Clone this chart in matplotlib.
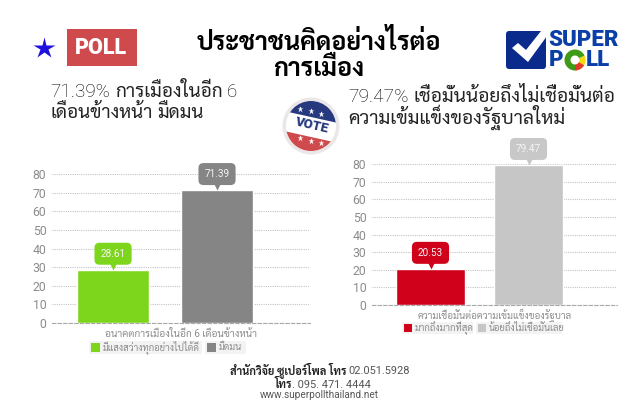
import matplotlib
matplotlib.use("Agg")
import matplotlib.pyplot as plt
from matplotlib.patches import Circle, FancyBboxPatch, Polygon, Rectangle, Wedge
from matplotlib.transforms import ScaledTranslation

W, H = 642, 420
THAI = ["Roboto", "Sarabun", "DejaVu Sans"]
LATIN = ["Roboto", "DejaVu Sans"]
plt.rcParams["font.family"] = THAI

# left chart
left_cat = "อนาคตการเมืองในอีก 6 เดือนข้างหน้า"
left_names = ["มีแสงสว่างทุกอย่างไปได้ดี", "มืดมน"]
left_vals = [28.61, 71.39]
left_cols = ["#7ed61c", "#858585"]

# right chart
right_cat = "ความเชื่อมั่นต่อความเข้มแข็งของรัฐบาล"
right_names = ["มากถึงมากที่สุด", "น้อยถึงไม่เชื่อมั่นเลย"]
right_vals = [20.53, 79.47]
right_cols = ["#d0021b", "#c6c6c6"]
right_tip = ["#d0021b", "#c8c8c8"]

y_ticks = [0, 10, 20, 30, 40, 50, 60, 70, 80]


def px_axes(fig, x0, x1, y_top, y_bottom):
    return fig.add_axes([x0 / W, 1 - y_bottom / H, (x1 - x0) / W, (y_bottom - y_top) / H])


def draw_chart(fig, box, xlim, vals, cols, tips, cat, width, cat_size, cat_pad):
    ax = px_axes(fig, *box)
    xs = list(range(len(vals)))
    ax.bar(xs, vals, width=width, color=cols, edgecolor="white", linewidth=1, zorder=3)
    ax.set_xlim(*xlim)
    ax.set_ylim(0, 80)
    ax.set_yticks(y_ticks)
    ax.set_xticks([])
    ax.tick_params(axis="y", length=0, labelsize=8.8, labelcolor="#8c8c8c", pad=4)
    ax.grid(axis="y", linestyle=(0, (1, 1)), color="#c4c4c4", linewidth=0.8, zorder=1)
    ax.patch.set_alpha(0)
    for side in ["top", "right", "left"]:
        ax.spines[side].set_visible(False)
    ax.spines["bottom"].set_linestyle((0, (3, 2)))
    ax.spines["bottom"].set_color("#a8a8a8")
    ax.spines["bottom"].set_linewidth(0.8)
    ax.set_xlabel(cat, fontsize=cat_size, color="#8c8c8c", labelpad=cat_pad)
    tip_shift = ScaledTranslation(0, 3 / 72, fig.dpi_scale_trans)
    for x, v, c in zip(xs, vals, tips):
        ax.annotate(f"{v:.2f}", (x, v), xytext=(0, 11.5), textcoords="offset points",
                    ha="center", va="center", fontsize=7.2, color="#f4f4f4", zorder=6,
                    bbox=dict(boxstyle="round,pad=0.6,rounding_size=0.5", fc=c, ec="none"))
        ax.plot([x], [v], marker="v", ms=5.5, color=c, mec="none", clip_on=False, zorder=5,
                transform=ax.transData + tip_shift)
    return ax


def legend_entry(ov, x0, x1, y0, y1, col, label):
    ov.add_patch(Rectangle((x0, y0), x1 - x0, y1 - y0, fc="#f3f3f3", ec="none"))
    ov.add_patch(Rectangle((x0 + 2, y0 + 2), y1 - y0 - 4, y1 - y0 - 4, fc=col, ec="none"))
    ov.text(x0 + y1 - y0 + 1, (y0 + y1) / 2, label, fontsize=6.8, color="#8c8c8c", va="center", ha="left")


def runs(ov, x, y, parts, size, gap):
    # text pieces of different weight, one after the other on a baseline
    rend = ov.figure.canvas.get_renderer()
    for text, weight, color in parts:
        t = ov.text(x, y, text, fontsize=size, fontweight=weight, color=color, ha="left", va="baseline")
        x += t.get_window_extent(rend).width + gap


fig = plt.figure(figsize=(W / 100, H / 100), dpi=100)
fig.patch.set_facecolor("white")

draw_chart(fig, (52, 310, 174, 323), (-0.587, 1.894), left_vals, left_cols, left_cols, left_cat, 0.692, 7.3, 4)
draw_chart(fig, (372, 617, 164, 305), (-0.597, 1.903), right_vals, right_cols, right_tip, right_cat, 0.704, 7.0, 2.5)

# page layer in pixels: headings, logos, legend chips
ov = fig.add_axes([0, 0, 1, 1], zorder=10)
ov.set_xlim(0, W)
ov.set_ylim(H, 0)
ov.axis("off")

ov.text(319, 50, "ประชาชนคิดอย่างไรต่อ", fontsize=18, fontweight="bold", ha="center", va="baseline", color="black")
ov.text(319, 76.5, "การเมือง", fontsize=18, fontweight="bold", ha="center", va="baseline", color="black")

runs(ov, 50, 97, [("71.39%", "light", "#000000"), ("การเมืองในอีก", "normal", "#222222"), ("6", "light", "#000000")], 13.6, 5)
runs(ov, 50, 118, [("เดือนข้างหน้า", "normal", "#222222"), ("มืดมน", "normal", "#222222")], 13.6, 5)
runs(ov, 348, 102.5, [("79.47%", "light", "#000000"), ("เชื่อมั่นน้อยถึงไม่เชื่อมั่นต่อ", "normal", "#222222")], 13.8, 5)
runs(ov, 348, 124, [("ความเข้มแข็งของรัฐบาลใหม่", "normal", "#222222")], 13.8, 5)

# footer
runs(ov, 230, 374.5, [("สำนักวิจัย ซูเปอร์โพล โทร", "bold", "#222222"), ("02.051.5928", "normal", "#555555")], 7.9, 2)
runs(ov, 275, 388, [("โทร", "bold", "#222222"), (". 095. 471. 4444", "normal", "#555555")], 7.9, 0)
ov.text(319, 398.5, "www.superpollthailand.net", fontsize=7.2, color="#555555", ha="center", va="baseline")

# legends
legend_entry(ov, 89, 202, 341, 354, left_cols[0], left_names[0])
legend_entry(ov, 205, 246, 341, 354, left_cols[1], left_names[1])
legend_entry(ov, 402, 473, 322, 334, right_cols[0], right_names[0])
legend_entry(ov, 476, 562, 322, 334, right_cols[1], right_names[1])

# star and POLL tag
ov.plot([44], [48], marker="*", ms=16, color="#2010e0", mec="none")
ov.add_patch(Rectangle((67, 29), 70, 37, fc="#cf4a4c", ec="none"))
ov.text(100.5, 48.5, "POLL", fontsize=15.5, fontweight="heavy", color="white", ha="center", va="center", family=LATIN)

# vote badge
cx, cy = 311, 126
ov.add_patch(Circle((cx, cy), 28.5, fc="#ebe7e7", ec="none"))
face = Circle((cx, cy), 25, fc="white", ec="none")
ov.add_patch(face)
blue = Polygon([(cx - 27, cy - 27), (cx + 27, cy - 27), (cx + 27, cy - 3), (cx - 27, cy - 15)], fc="#26397f", ec="none")
red = Polygon([(cx - 27, cy + 5), (cx + 27, cy + 17), (cx + 27, cy + 27), (cx - 27, cy + 27)], fc="#cf4a4c", ec="none")
ov.add_patch(blue)
ov.add_patch(red)
blue.set_clip_path(face)
red.set_clip_path(face)
ov.text(cx, cy - 0.5, "VOTE", fontsize=9.5, fontweight="heavy", color="#26397f", rotation=-13,
        rotation_mode="anchor", ha="center", va="center", family=LATIN)
ov.plot([cx - 11, cx, cx + 10], [cy - 17, cy - 15, cy - 12], ls="none", marker="*", ms=5, color="white", mec="none")
ov.plot([cx - 11, cx, cx + 10], [cy + 12, cy + 15, cy + 17], ls="none", marker="*", ms=5, color="white", mec="none")

# superpoll logo
ov.add_patch(FancyBboxPatch((508, 33), 36, 34, boxstyle="round,pad=2,rounding_size=3", fc="#0a2a8c", ec="none"))
ov.add_patch(Polygon([(512, 48), (518, 43), (526, 50), (541, 31), (547, 31), (547, 36), (528, 62)], fc="white", ec="none"))
ov.text(548.5, 39.5, "SUPER", fontsize=16, fontweight="heavy", color="#0b3fa8", ha="left", va="center", family=LATIN)
ov.text(549, 60, "P", fontsize=16, fontweight="heavy", color="#0b3fa8", ha="left", va="center", family=LATIN)
ov.text(586, 60, "LL", fontsize=16, fontweight="heavy", color="#0b3fa8", ha="left", va="center", family=LATIN)
ov.add_patch(Wedge((575, 60), 10.5, -25, 90, width=6, fc="#f5d90a", ec="none"))
ov.add_patch(Wedge((575, 60), 10.5, 30, 90, width=6, fc="#e03a2e", ec="none"))
ov.add_patch(Wedge((575, 60), 10.5, 90, 335, width=6, fc="#3f9b16", ec="none"))

fig.savefig("out.png", dpi=100)
